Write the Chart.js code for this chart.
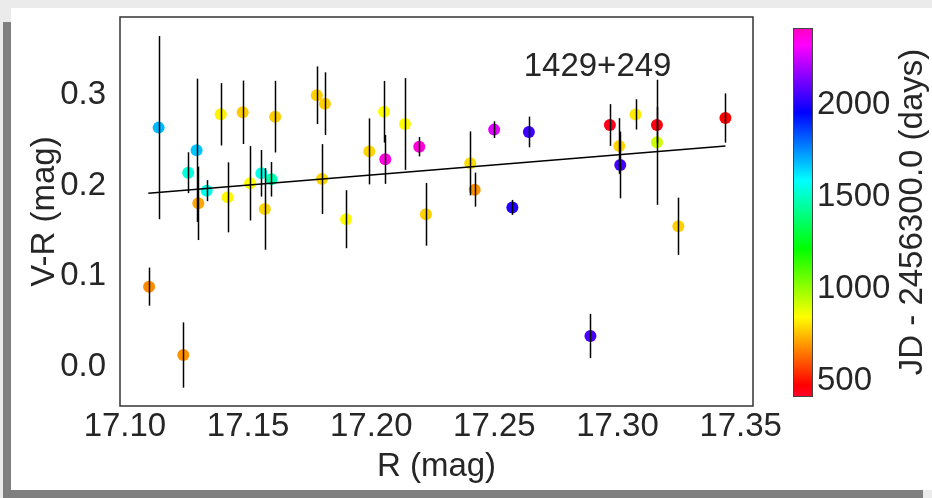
<!DOCTYPE html>
<html lang="en">
  <head>
    <meta charset="UTF-8" />
    <title>V-R vs R</title>
    <script src="https://cdn.jsdelivr.net/npm/chart.js@4.4.0/dist/chart.umd.min.js"></script>
    <style>
      body { margin: 0; background: #ebebeb; }
      #grey { position: absolute; left: 3px; top: 22px; width: 920px; height: 476px; background: #7f7f7f; }
      #paper { position: absolute; left: 11px; top: 8px; width: 921px; height: 482px; background: #fff; }
      #wrap { position: absolute; left: 0; top: 0; width: 932px; height: 498px; }
    </style>
  </head>
  <body>
    <div id="grey"></div>
    <div id="paper"></div>
    <div id="wrap"><canvas id="chart" width="932" height="498"></canvas></div>

    <script>
      // R magnitude, V-R colour, its error, and observation date (JD - 2456300.0)
      const rMag = [
        17.1098, 17.1137, 17.1237, 17.1257, 17.1291, 17.1298, 17.1332, 17.1389, 17.1417, 17.1478,
        17.1508, 17.1554, 17.1568, 17.1595, 17.161, 17.1779, 17.1812, 17.18, 17.1898, 17.1992,
        17.2052, 17.2057, 17.2137, 17.2195, 17.2222, 17.2402, 17.242, 17.2499, 17.2573, 17.264,
        17.289, 17.2969, 17.3007, 17.3011, 17.3073, 17.316, 17.316, 17.3247, 17.3438,
      ]
      const vr = [
        0.0886, 0.264, 0.0132, 0.2143, 0.239, 0.1805, 0.1945, 0.2787, 0.1871, 0.2809,
        0.2026, 0.2136, 0.1743, 0.207, 0.2761, 0.2997, 0.2904, 0.2073, 0.163, 0.2378,
        0.2815, 0.229, 0.268, 0.243, 0.1684, 0.2246, 0.1956, 0.2618, 0.176, 0.2592,
        0.0342, 0.2669, 0.2437, 0.2228, 0.2786, 0.2669, 0.2478, 0.1552, 0.2746,
      ]
      const vrErr = [
        0.021, 0.101, 0.036, 0.0225, 0.079, 0.0405, 0.0116, 0.0344, 0.0386, 0.035,
        0.041, 0.0257, 0.045, 0.019, 0.0395, 0.0318, 0.0346, 0.0385, 0.032, 0.0364,
        0.034, 0.027, 0.0506, 0.0107, 0.0346, 0.0353, 0.0188, 0.0092, 0.0083, 0.0169,
        0.0244, 0.023, 0.0307, 0.0368, 0.0167, 0.02, 0.069, 0.0316, 0.0272,
      ]
      const jd = [
        680, 1690, 690, 1540, 1670, 720, 1560, 832, 840, 776,
        850, 1560, 790, 1480, 780, 780, 780, 790, 845, 790,
        850, 2370, 850, 2380, 780, 800, 690, 2280, 2010, 2050,
        2060, 440, 790, 2060, 820, 460, 923, 780, 480,
      ]

      // least-squares line drawn in the figure
      const fitX = [17.1095, 17.3438]
      const fitY = [0.1916, 0.2437]

      const xTicks = [17.1, 17.15, 17.2, 17.25, 17.3, 17.35]
      const yTicks = [0.0, 0.1, 0.2, 0.3]
      const jdTicks = [500, 1000, 1500, 2000]
      const jdRange = [420, 2418]

      const label = '1429+249'
      const labelPos = [17.2919, 0.3314]

      const FONT = "'Liberation Sans', Arial, sans-serif"
      const INK = '#262626'

      // matplotlib gist_rainbow
      const GIST_RAINBOW = [
        [0.0, 1, 0, 0.16],
        [0.03, 1, 0, 0],
        [0.215, 1, 1, 0],
        [0.4, 0, 1, 0],
        [0.586, 0, 1, 1],
        [0.77, 0, 0, 1],
        [0.954, 1, 0, 1],
        [1.0, 1, 0, 0.75],
      ]

      function rgb(r, g, b) {
        return 'rgb(' + Math.round(r * 255) + ',' + Math.round(g * 255) + ',' + Math.round(b * 255) + ')'
      }

      function gistRainbow(t) {
        t = Math.max(0, Math.min(1, t))
        for (let i = 1; i < GIST_RAINBOW.length; i++) {
          const a = GIST_RAINBOW[i - 1]
          const b = GIST_RAINBOW[i]
          if (t <= b[0]) {
            const f = (t - a[0]) / (b[0] - a[0])
            return rgb(a[1] + (b[1] - a[1]) * f, a[2] + (b[2] - a[2]) * f, a[3] + (b[3] - a[3]) * f)
          }
        }
        const l = GIST_RAINBOW[GIST_RAINBOW.length - 1]
        return rgb(l[1], l[2], l[3])
      }

      const pointColors = jd.map((d) => gistRainbow((d - jdRange[0]) / (jdRange[1] - jdRange[0])))

      // fixed axis boxes, no extra padding from label overhang
      function fixBox(w, h) {
        return (s) => {
          if (w) s.width = w
          if (h) s.height = h
          s.paddingTop = 0
          s.paddingBottom = 0
          s.paddingLeft = 0
          s.paddingRight = 0
        }
      }

      const figurePlugin = {
        id: 'figure',
        afterDatasetsDraw(chart) {
          const { ctx, chartArea: a, scales } = chart
          const x = scales.x
          const y = scales.y

          // error bars on top of the dots
          ctx.save()
          ctx.beginPath()
          ctx.rect(a.left, a.top, a.right - a.left, a.bottom - a.top)
          ctx.clip()
          ctx.strokeStyle = '#000'
          ctx.lineWidth = 1.5
          rMag.forEach((r, i) => {
            const px = Math.round(x.getPixelForValue(r)) + 0.5
            ctx.beginPath()
            ctx.moveTo(px, y.getPixelForValue(vr[i] - vrErr[i]))
            ctx.lineTo(px, y.getPixelForValue(vr[i] + vrErr[i]))
            ctx.stroke()
          })
          ctx.restore()

          // frame
          ctx.save()
          ctx.strokeStyle = '#333'
          ctx.lineWidth = 1.5
          ctx.strokeRect(a.left, a.top, a.right - a.left, a.bottom - a.top)

          // object name
          ctx.fillStyle = INK
          ctx.font = '33px ' + FONT
          ctx.textAlign = 'center'
          ctx.textBaseline = 'middle'
          ctx.fillText(label, x.getPixelForValue(labelPos[0]), y.getPixelForValue(labelPos[1]))

          // colour bar
          const c = scales.jd
          const top = c.getPixelForValue(jdRange[1])
          const bottom = c.getPixelForValue(jdRange[0])
          const bx = 793
          const bw = 19
          const grad = ctx.createLinearGradient(0, bottom, 0, top)
          GIST_RAINBOW.forEach((s) => grad.addColorStop(s[0], rgb(s[1], s[2], s[3])))
          ctx.fillStyle = grad
          ctx.fillRect(bx, top, bw, bottom - top)
          ctx.strokeStyle = '#444'
          ctx.lineWidth = 1
          ctx.strokeRect(bx + 0.5, top + 0.5, bw, bottom - top)

          // colour bar title, reading upward
          ctx.translate(913, (top + bottom) / 2)
          ctx.rotate(-Math.PI / 2)
          ctx.fillStyle = INK
          ctx.textAlign = 'center'
          ctx.textBaseline = 'middle'
          ctx.fillText('JD - 2456300.0 (days)', 0, 0)
          ctx.restore()
        },
      }

      const tickFont = { family: FONT, size: 33 }

      new Chart(document.getElementById('chart').getContext('2d'), {
        type: 'scatter',
        data: {
          datasets: [
            {
              data: rMag.map((r, i) => ({ x: r, y: vr[i] })),
              backgroundColor: pointColors,
              pointRadius: 6,
              pointBorderWidth: 0,
              order: 2,
            },
            {
              type: 'line',
              data: fitX.map((v, i) => ({ x: v, y: fitY[i] })),
              borderColor: '#000',
              borderWidth: 1.5,
              pointRadius: 0,
              order: 1,
            },
          ],
        },
        options: {
          responsive: false,
          animation: false,
          layout: { padding: { top: 17, left: 0, right: 0, bottom: 0 } },
          plugins: { legend: { display: false }, tooltip: { enabled: false } },
          scales: {
            x: {
              type: 'linear',
              min: 17.098,
              max: 17.355,
              afterBuildTicks: (s) => (s.ticks = xTicks.map((v) => ({ value: v }))),
              afterFit: fixBox(0, 92),
              grid: { display: false },
              border: { display: false },
              ticks: { font: tickFont, color: INK, padding: -7, maxRotation: 0, callback: (v) => v.toFixed(2) },
              title: { display: true, text: 'R (mag)', font: tickFont, color: INK, padding: { top: 0, bottom: 11 } },
            },
            y: {
              min: -0.043,
              max: 0.386,
              afterBuildTicks: (s) => (s.ticks = yTicks.map((v) => ({ value: v }))),
              afterFit: fixBox(120, 0),
              grid: { display: false },
              border: { display: false },
              ticks: { font: tickFont, color: INK, padding: 6, callback: (v) => v.toFixed(1) },
              title: { display: true, text: 'V-R (mag)', font: tickFont, color: INK, padding: { top: 25, bottom: 0 } },
            },
            jd: {
              position: 'right',
              min: 365.7,
              max: 2477.7,
              afterBuildTicks: (s) => (s.ticks = jdTicks.map((v) => ({ value: v }))),
              afterFit: fixBox(179, 0),
              grid: { display: false },
              border: { display: false },
              ticks: { font: tickFont, color: INK, padding: 56, callback: (v) => String(v) },
            },
          },
        },
        plugins: [figurePlugin],
      })
    </script>
  </body>
</html>
